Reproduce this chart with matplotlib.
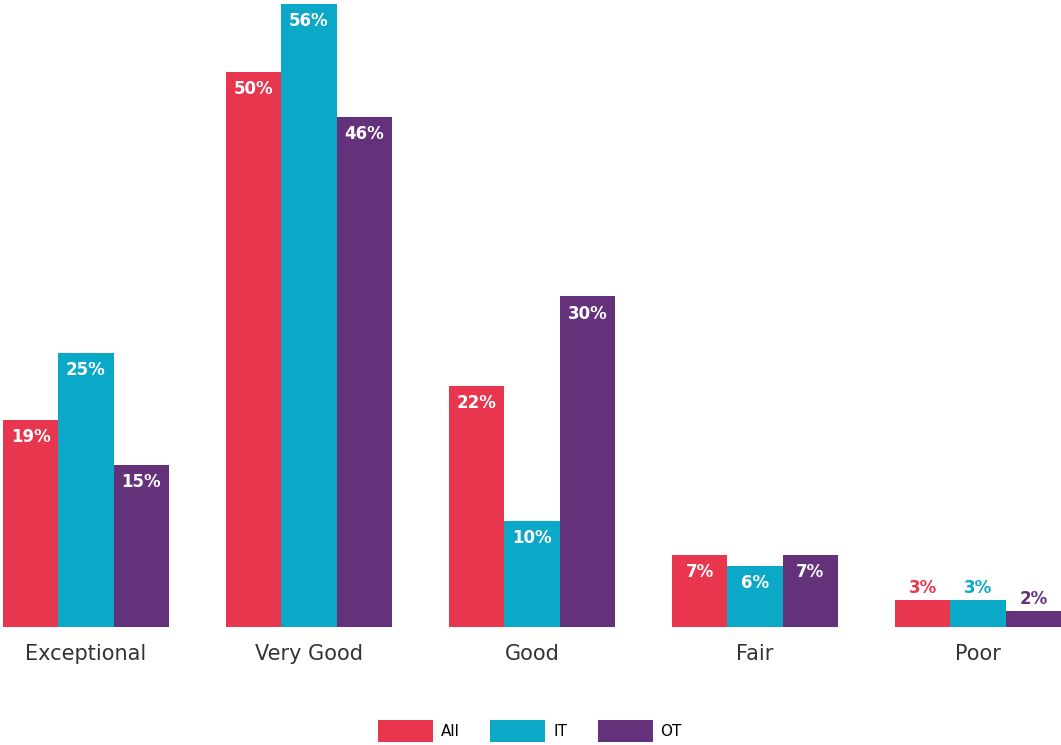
import numpy as np
import matplotlib.pyplot as plt

categories = ["Exceptional", "Very Good", "Good", "Fair", "Poor"]
series = ["All", "IT", "OT"]
all_vals = [19, 50, 22, 7, 3]
it_vals = [25, 56, 10, 6, 3]
ot_vals = [15, 46, 30, 7, 2]
colors = ["#E8364F", "#0BA8C7", "#64317B"]

fig = plt.figure(figsize=(10.61, 7.45), dpi=100)
ax = fig.add_axes([3 / 1061, 117.7 / 745, 1058 / 1061, 627.3 / 745])

x = np.arange(len(categories))
w = 0.248
for i, (name, vals) in enumerate(zip(series, [all_vals, it_vals, ot_vals])):
    pos = x + (i - 1) * w
    ax.bar(pos, vals, width=w, color=colors[i], label=name, linewidth=0)
    for px, v in zip(pos, vals):
        if v >= 5:
            # label inside the bar
            ax.annotate(f"{v}%", (px, v), xytext=(0, -12.3), textcoords="offset points",
                        ha="center", va="center", color="white", fontsize=12,
                        fontweight="bold", family="DejaVu Sans")
        else:
            ax.annotate(f"{v}%", (px, v), xytext=(0, 9), textcoords="offset points",
                        ha="center", va="center", color=colors[i], fontsize=12,
                        fontweight="bold", family="DejaVu Sans")

ax.set_xlim(-0.372, 4.372)
ax.set_ylim(0.58, 56.36)
ax.set_xticks(x)
ax.set_xticklabels(categories, fontsize=15, color="#333333", family="DejaVu Sans")
ax.tick_params(axis="x", length=0, pad=12)
ax.set_yticks([])
for s in ax.spines.values():
    s.set_visible(False)

fig.legend(loc="center", bbox_to_anchor=(0.4995, 0.0185), ncol=3, frameon=False,
           handlelength=3.6, handleheight=1.8, handletextpad=0.5,
           columnspacing=2.0, prop={"family": "DejaVu Sans", "size": 11})

fig.savefig("out.png", dpi=100)
